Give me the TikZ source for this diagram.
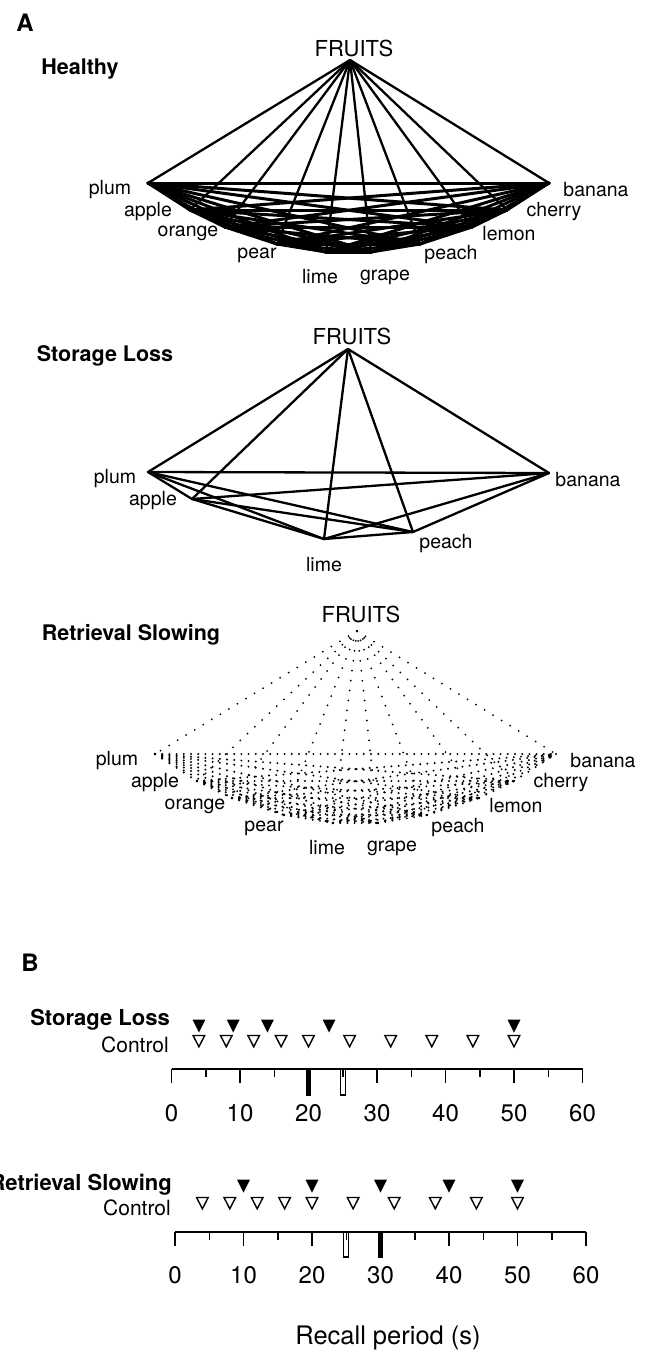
\documentclass[tikz,border=0pt]{standalone}
\usepackage{fontspec}
\setmainfont{TeX Gyre Heros}
\usetikzlibrary{calc}
\begin{document}
\begin{tikzpicture}[x=1pt,y=-1pt,
  lbl/.style={font=\fontsize{19.5}{22}\selectfont,inner sep=0pt},
  ttl/.style={font=\fontsize{22}{25}\selectfont,inner sep=0pt},
  head/.style={font=\fontsize{21.5}{24}\selectfont\bfseries,inner sep=0pt},
  letter/.style={font=\fontsize{24}{27}\selectfont\bfseries,inner sep=0pt},
  num/.style={font=\fontsize{24}{27}\selectfont,inner sep=0pt},
  bhead/.style={font=\fontsize{22}{25}\selectfont\bfseries,inner sep=0pt,anchor=east},
  ctl/.style={font=\fontsize{21}{24}\selectfont,inner sep=0pt,anchor=east},
  edge/.style={line width=2.3pt,line join=round,line cap=round},
  mesh/.style={line width=3pt,line join=round,line cap=round},
  dspoke/.style={line width=2pt,line cap=round,dash pattern=on 0pt off 10pt},
  axis/.style={line width=1.5pt},
  ftri/.pic={\fill (-6.5,-6.5) -- (6.5,-6.5) -- (0,6.5) -- cycle;},
  otri/.pic={\draw[line width=1.4pt,line join=miter] (-5.8,-5.5) -- (5.8,-5.5) -- (0,5.8) -- cycle;}
]
\useasboundingbox (0,0) rectangle (646,1353);
\def\fruitlist{plum,apple,orange,pear,lime,grape,peach,lemon,cherry,banana}
\def\fruitpos{plum/148/183,apple/190/210,orange/225/227,pear/277/244,lime/326/252,grape/371/252,peach/420/244,lemon/472/227,cherry/507/210,banana/549/183}

% ---------------- Panel A ----------------
\node[letter] (A) at (25,23) {A};

% Healthy
\node[ttl] (hFt) at (354,48) {FRUITS};
\node[head] (hHead) at (80,69) {Healthy};
\coordinate (hF) at (350,60);
\foreach \n/\x/\y in \fruitpos {\coordinate (h\n) at (\x,\y);}
\foreach \a [count=\i] in \fruitlist {
  \draw[edge] (hF) -- (h\a);
  \foreach \b [count=\j] in \fruitlist {
    \ifnum\j>\i \draw[mesh] (h\a) -- (h\b); \fi
  }
}
\draw[edge] (hplum) -- (hbanana);
\node[lbl] (hlplum) at (110,190) {plum};
\node[lbl] (hlapple) at (148,212) {apple};
\node[lbl] (hlorange) at (188,233) {orange};
\node[lbl] (hlpear) at (257,255) {pear};
\node[lbl] (hllime) at (320,277) {lime};
\node[lbl] (hlgrape) at (385,277) {grape};
\node[lbl] (hlpeach) at (451,255) {peach};
\node[lbl] (hllemon) at (509,234) {lemon};
\node[lbl] (hlcherry) at (554,212) {cherry};
\node[lbl] (hlbanana) at (596,190) {banana};

% Storage loss
\node[ttl] (sFt) at (352,336) {FRUITS};
\node[head] (sHead) at (105,356) {Storage Loss};
\coordinate (sF) at (348,349);
\foreach \n/\x/\y in {plum/148/472,apple/192/499,lime/324/539,peach/413/532,banana/549/473} {\coordinate (s\n) at (\x,\y);}
\def\slist{plum,apple,lime,peach,banana}
\foreach \a [count=\i] in \slist {
  \draw[edge] (sF) -- (s\a);
  \foreach \b [count=\j] in \slist {
    \ifnum\j>\i \draw[edge] (s\a) -- (s\b); \fi
  }
}
\node[lbl] (slplum) at (115,479) {plum};
\node[lbl] (slapple) at (153,501) {apple};
\node[lbl] (sllime) at (324,565) {lime};
\node[lbl] (slpeach) at (446,544) {peach};
\node[lbl] (slbanana) at (588,480) {banana};

% Retrieval slowing
\node[ttl] (rFt) at (361,614) {FRUITS};
\node[head] (rHead) at (131,635) {Retrieval Slowing};
\begin{scope}[shift={(7,571)}]
\coordinate (rF) at (350,60);
\foreach \n/\x/\y in \fruitpos {\coordinate (r\n) at (\x,\y);}
\end{scope}
\foreach \a [count=\i] in \fruitlist {
  \draw[dspoke] (rF) -- (r\a);
}
\foreach \a/\xa/\ya [count=\i] in \fruitpos {
  \foreach \b/\xb/\yb [count=\j] in \fruitpos {
    \ifnum\j>\i
      \pgfmathtruncatemacro\nn{(\xb-\xa)/7.2}
      \foreach \k in {0,...,\nn} {
        \pgfmathsetmacro\ff{7.2*\k/(\xb-\xa)}
        \fill ($(r\a)!\ff!(r\b)$) circle (1.1);
      }
    \fi
  }
}
\node[lbl] (rlplum) at (117,761) {plum};
\node[lbl] (rlapple) at (155,783) {apple};
\node[lbl] (rlorange) at (195,806) {orange};
\node[lbl] (rlpear) at (264,828) {pear};
\node[lbl] (rllime) at (327,848) {lime};
\node[lbl] (rlgrape) at (392,848) {grape};
\node[lbl] (rlpeach) at (458,828) {peach};
\node[lbl] (rllemon) at (516,806) {lemon};
\node[lbl] (rlcherry) at (561,783) {cherry};
\node[lbl] (rlbanana) at (603,761) {banana};

% ---------------- Panel B ----------------
\node[letter] (B) at (30,963) {B};

% Storage loss timeline
\def\xo{171.5}
\def\ya{1069}
\node[bhead] (bS) at (170,1020) {Storage Loss};
\node[ctl] (bSc) at (169,1045) {Control};
\foreach \t in {4,9,14,23,50} \pic at (\xo+6.85*\t,1026) {ftri};
\foreach \t in {4,8,12,16,20,26,32,38,44,50} \pic at (\xo+6.85*\t,1041) {otri};
\draw[axis] (\xo,\ya) -- (\xo+411,\ya);
\foreach \t in {0,10,...,60} {
  \draw[axis] (\xo+6.85*\t,\ya) -- ++(0,14);
  \node[num] at (\xo+6.85*\t,1113) {\t};
}
\foreach \t in {5,15,...,55} \draw[axis] (\xo+6.85*\t,\ya) -- ++(0,8);
\fill (\xo+6.85*20-2.5,\ya) rectangle ++(5,27);
\draw[line width=1.2pt] (\xo+6.85*25-2.5,\ya) rectangle ++(5,26);

% Retrieval slowing timeline
\def\xo{175}
\def\ya{1232}
\node[bhead] (bR) at (172,1185) {Retrieval Slowing};
\node[ctl] (bRc) at (171,1208) {Control};
\foreach \t in {10,20,30,40,50} \pic at (\xo+6.85*\t,1186) {ftri};
\foreach \t in {4,8,12,16,20,26,32,38,44,50} \pic at (\xo+6.85*\t,1203) {otri};
\draw[axis] (\xo,\ya) -- (\xo+411,\ya);
\foreach \t in {0,10,...,60} {
  \draw[axis] (\xo+6.85*\t,\ya) -- ++(0,14);
  \node[num] at (\xo+6.85*\t,1275) {\t};
}
\foreach \t in {5,15,...,55} \draw[axis] (\xo+6.85*\t,\ya) -- ++(0,8);
\draw[line width=1.2pt] (\xo+6.85*25-2.5,\ya) rectangle ++(5,25);
\fill (\xo+6.85*30-2.5,\ya) rectangle ++(5,26);

\node[font=\fontsize{25.5}{28}\selectfont,inner sep=0pt] (xlab) at (388,1338) {Recall period (s)};
\end{tikzpicture}
\end{document}
